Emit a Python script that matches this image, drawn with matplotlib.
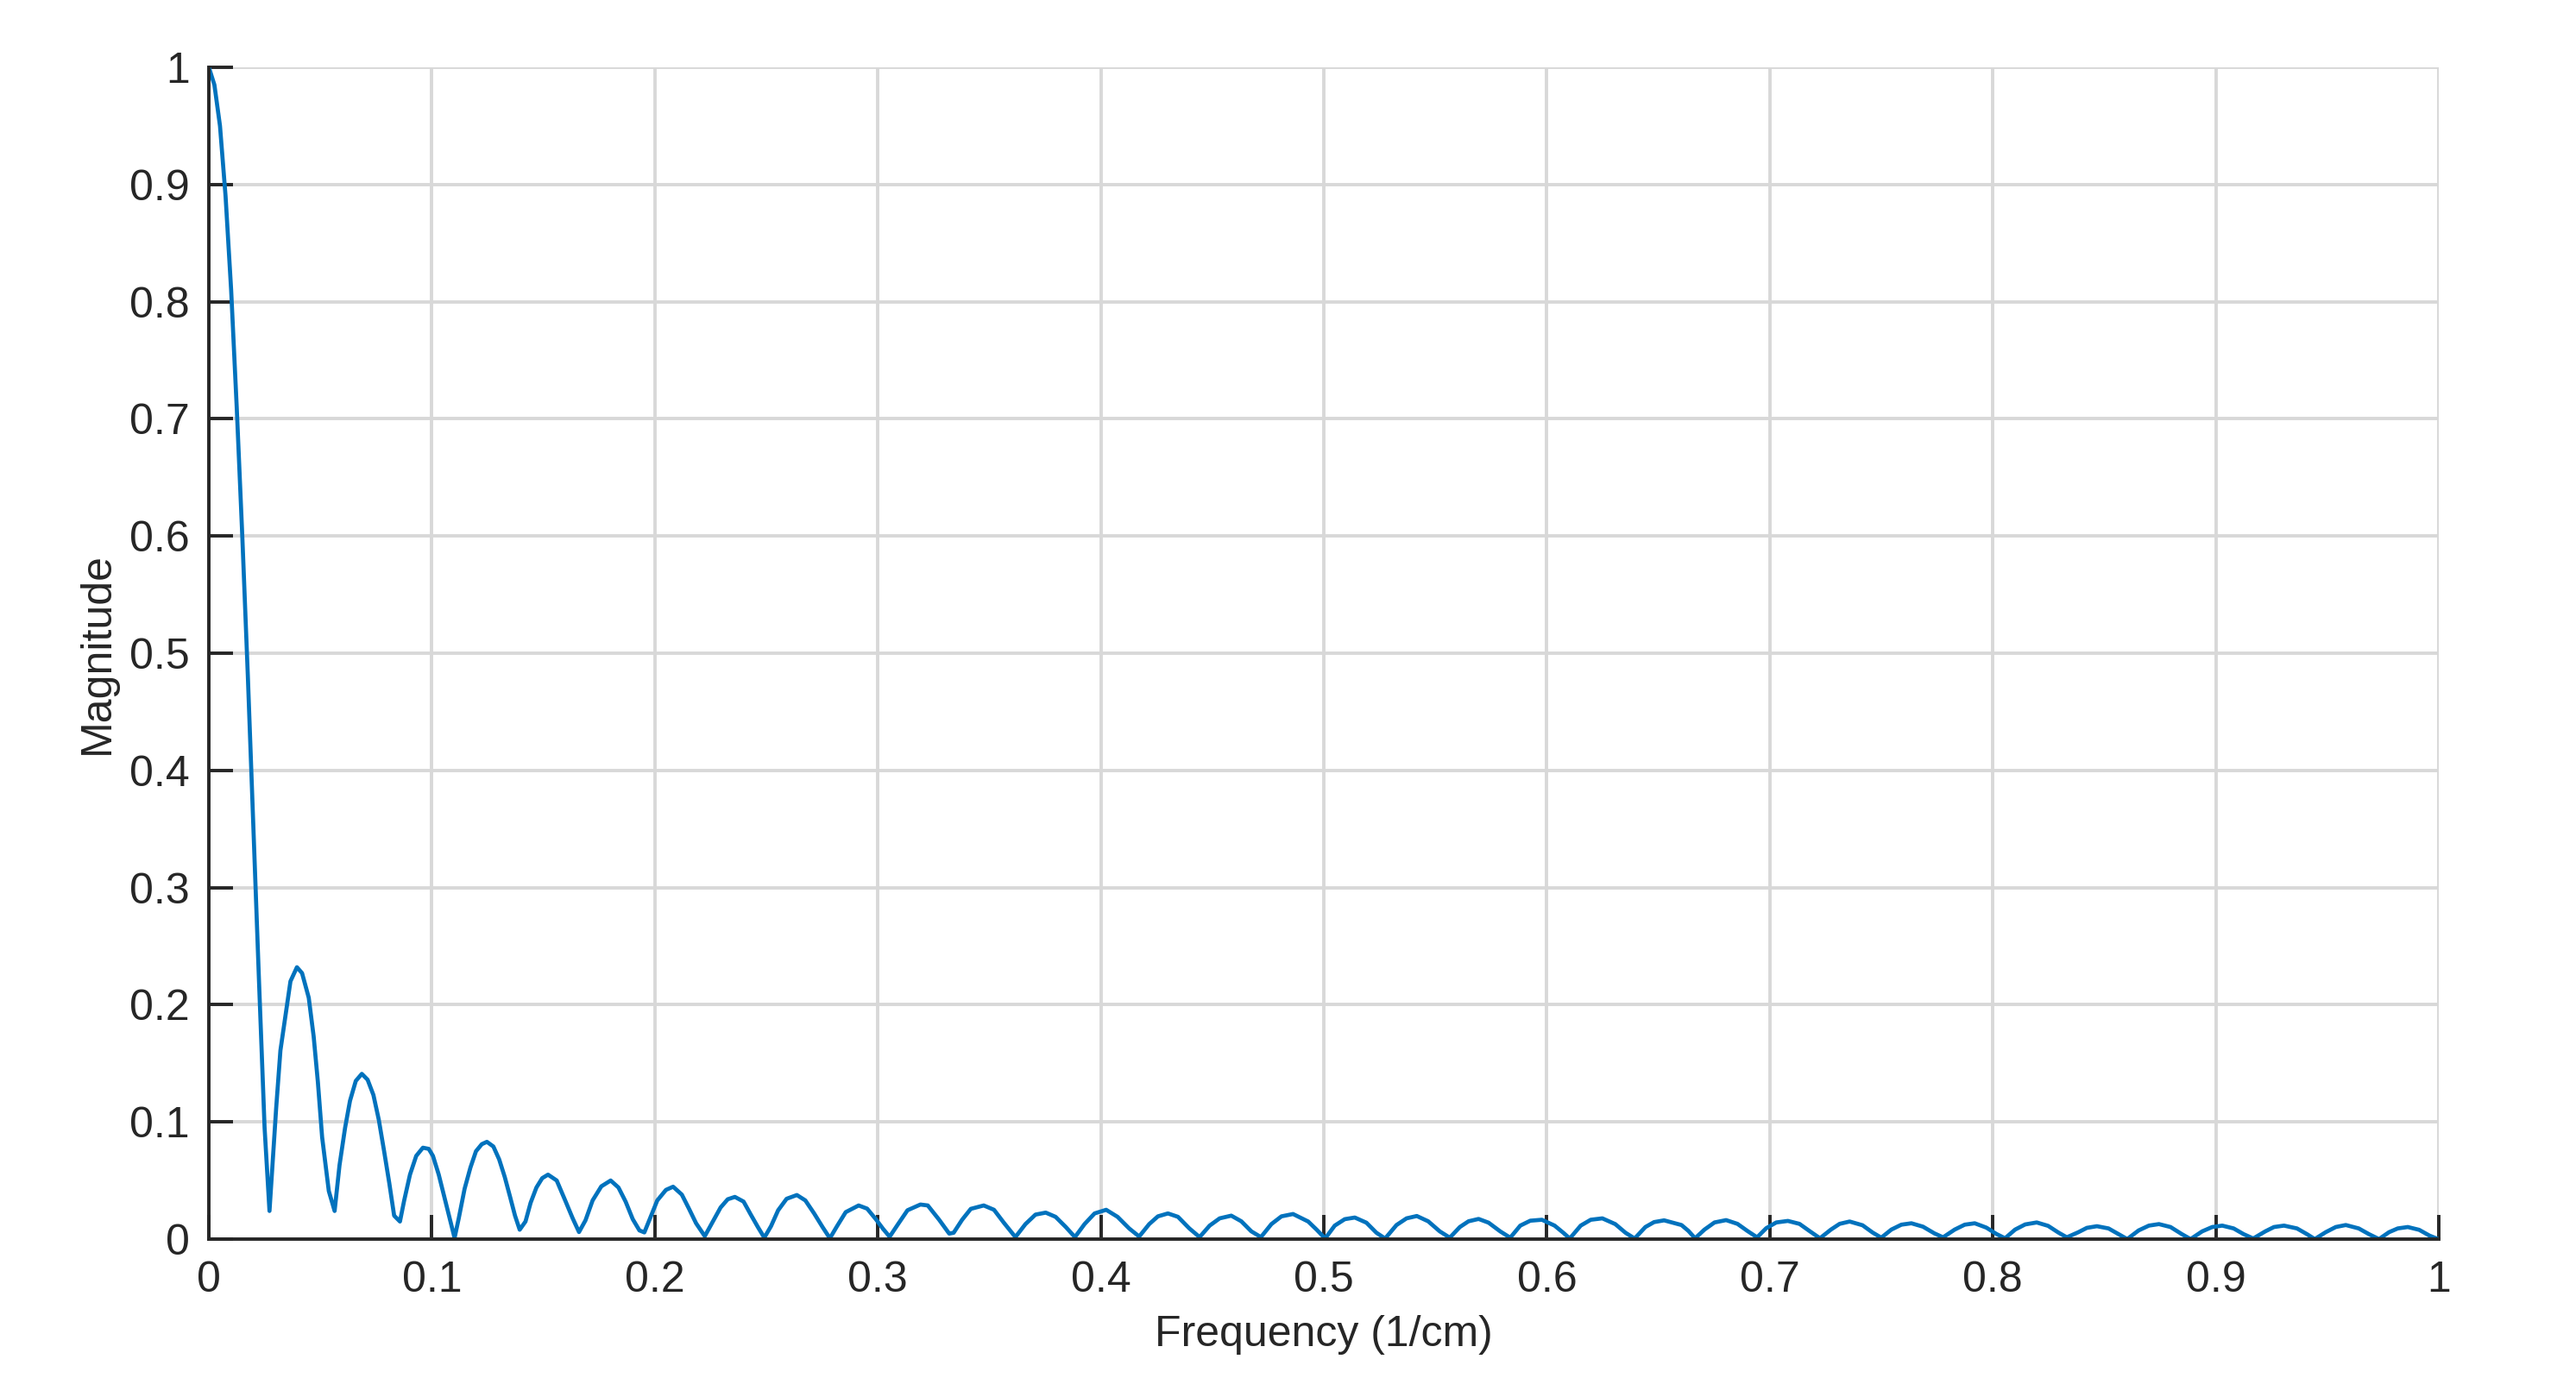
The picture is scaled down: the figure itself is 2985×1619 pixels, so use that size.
import matplotlib
matplotlib.use("Agg")
import matplotlib.pyplot as plt

# Values (frequency in 1/cm, magnitude)
frequency = [
    0.0000, 0.0025, 0.0050, 0.0075, 0.0100, 0.0125, 0.0150, 0.0175, 0.0200, 0.0225, 0.0250, 0.0272,
    0.0302, 0.0321, 0.0343, 0.0366, 0.0395, 0.0418, 0.0448, 0.0470, 0.0489, 0.0508, 0.0538, 0.0564,
    0.0586, 0.0611, 0.0633, 0.0659, 0.0686, 0.0712, 0.0738, 0.0762, 0.0786, 0.0809, 0.0831, 0.0857,
    0.0876, 0.0902, 0.0930, 0.0960, 0.0986, 0.1005, 0.1031, 0.1056, 0.1080, 0.1102,
    0.1121, 0.1147, 0.1173, 0.1198, 0.1224, 0.1247, 0.1276, 0.1302, 0.1327, 0.1351, 0.1373, 0.1394,
    0.1420, 0.1443, 0.1469, 0.1495, 0.1521, 0.1560, 0.1598, 0.1631, 0.1660,
    0.1689, 0.1721, 0.1760, 0.1802, 0.1837, 0.1869, 0.1901, 0.1931, 0.1953,
    0.1979, 0.2011, 0.2050, 0.2082, 0.2121, 0.2153, 0.2185, 0.2224,
    0.2256, 0.2295, 0.2327, 0.2359, 0.2398, 0.2430, 0.2463, 0.2491,
    0.2521, 0.2553, 0.2591, 0.2637, 0.2675, 0.2714, 0.2753, 0.2785,
    0.2817, 0.2856, 0.2914, 0.2952, 0.2991, 0.3024, 0.3053,
    0.3088, 0.3133, 0.3191, 0.3224, 0.3275, 0.3320, 0.3340,
    0.3378, 0.3417, 0.3475, 0.3521, 0.3565, 0.3617,
    0.3662, 0.3707, 0.3753, 0.3797, 0.3843, 0.3884,
    0.3927, 0.3972, 0.4024, 0.4075, 0.4127, 0.4172,
    0.4217, 0.4256, 0.4301, 0.4346, 0.4397, 0.4443,
    0.4488, 0.4533, 0.4585, 0.4630, 0.4675, 0.4718,
    0.4765, 0.4810, 0.4862, 0.4930, 0.4968, 0.5006,
    0.5049, 0.5094, 0.5139, 0.5191, 0.5236, 0.5275,
    0.5326, 0.5371, 0.5417, 0.5468, 0.5520, 0.5565,
    0.5610, 0.5649, 0.5694, 0.5739, 0.5791, 0.5836,
    0.5881, 0.5926, 0.5978, 0.6035, 0.6074, 0.6103,
    0.6152, 0.6197, 0.6249, 0.6307, 0.6353, 0.6394,
    0.6442, 0.6481, 0.6526, 0.6604, 0.6635, 0.6665,
    0.6707, 0.6752, 0.6804, 0.6855, 0.6900, 0.6943,
    0.6984, 0.7029, 0.7081, 0.7133, 0.7178, 0.7225,
    0.7274, 0.7313, 0.7358, 0.7416, 0.7461, 0.7500,
    0.7545, 0.7590, 0.7635, 0.7687, 0.7738, 0.7777,
    0.7829, 0.7874, 0.7919, 0.7971, 0.8016, 0.8055,
    0.8100, 0.8145, 0.8197, 0.8248, 0.8294, 0.8332,
    0.8384, 0.8422, 0.8467, 0.8519, 0.8564, 0.8603,
    0.8654, 0.8700, 0.8745, 0.8797, 0.8848, 0.8887,
    0.8939, 0.8984, 0.9029, 0.9080, 0.9125, 0.9168,
    0.9222, 0.9261, 0.9306, 0.9364, 0.9409, 0.9444,
    0.9493, 0.9538, 0.9583, 0.9641, 0.9687, 0.9732,
    0.9777, 0.9816, 0.9861, 0.9912, 0.9958, 0.9997,
]
magnitude = [
    1.000, 0.985, 0.950, 0.890, 0.810, 0.710, 0.600, 0.480, 0.350, 0.220, 0.095, 0.024,
    0.112, 0.161, 0.190, 0.220, 0.232, 0.227, 0.206, 0.173, 0.134, 0.087, 0.041, 0.024,
    0.063, 0.095, 0.118, 0.135, 0.141, 0.136, 0.123, 0.102, 0.075, 0.048, 0.020, 0.015,
    0.033, 0.055, 0.071, 0.078, 0.077, 0.071, 0.055, 0.036, 0.018, 0.001,
    0.018, 0.043, 0.061, 0.075, 0.081, 0.083, 0.079, 0.068, 0.053, 0.036, 0.020, 0.008,
    0.015, 0.031, 0.044, 0.052, 0.055, 0.050, 0.033, 0.018, 0.006,
    0.016, 0.033, 0.045, 0.050, 0.044, 0.032, 0.017, 0.0074, 0.0057,
    0.018, 0.033, 0.042, 0.0447, 0.038, 0.026, 0.0135, 0.0025,
    0.0135, 0.027, 0.034, 0.036, 0.032, 0.021, 0.010, 0.0012,
    0.011, 0.0246, 0.0344, 0.0376, 0.033, 0.022, 0.010, 0.0007,
    0.011, 0.023, 0.0287, 0.026, 0.017, 0.0086, 0.002,
    0.012, 0.0246, 0.0295, 0.0287, 0.0165, 0.0047, 0.0054,
    0.0165, 0.0258, 0.0287, 0.025, 0.014, 0.0017,
    0.0128, 0.0209, 0.0226, 0.019, 0.0103, 0.0017,
    0.0128, 0.0219, 0.025, 0.019, 0.0091, 0.0022,
    0.0128, 0.0194, 0.0219, 0.019, 0.0091, 0.0017,
    0.0115, 0.0177, 0.020, 0.0152, 0.0066, 0.0017,
    0.0128, 0.0194, 0.0214, 0.015, 0.008, 0.0005,
    0.0115, 0.017, 0.0184, 0.014, 0.0054, 0.0005,
    0.012, 0.0177, 0.0197, 0.0152, 0.0066, 0.0012,
    0.0103, 0.0152, 0.0172, 0.014, 0.0066, 0.0012,
    0.0115, 0.0157, 0.0165, 0.0115, 0.0054, 0.0005,
    0.0115, 0.0165, 0.0177, 0.0128, 0.0054, 0.0005,
    0.0103, 0.0145, 0.016, 0.012, 0.007, 0.0007,
    0.0081, 0.0142, 0.0162, 0.013, 0.0069, 0.0015,
    0.0093, 0.0142, 0.0155, 0.013, 0.0069, 0.0007,
    0.0081, 0.013, 0.015, 0.0118, 0.0056, 0.0012,
    0.0081, 0.0123, 0.0135, 0.0106, 0.0049, 0.0015,
    0.0081, 0.0123, 0.0135, 0.0098, 0.0044, 0.0007,
    0.0081, 0.0125, 0.0142, 0.0113, 0.0056, 0.0015,
    0.0059, 0.0096, 0.011, 0.0091, 0.0042, 0.0000,
    0.0074, 0.0115, 0.0128, 0.0103, 0.0042, 0.0000,
    0.0066, 0.0103, 0.0115, 0.0091, 0.0042, 0.0005,
    0.0066, 0.0103, 0.0115, 0.0091, 0.0042, 0.0000,
    0.0059, 0.0103, 0.012, 0.0091, 0.0042, 0.0000,
    0.0059, 0.0091, 0.0103, 0.0079, 0.003, 0.0000,
]

x_ticks = [0, 0.1, 0.2, 0.3, 0.4, 0.5, 0.6, 0.7, 0.8, 0.9, 1]
x_tick_labels = ["0", "0.1", "0.2", "0.3", "0.4", "0.5", "0.6", "0.7", "0.8", "0.9", "1"]
y_ticks = [0, 0.1, 0.2, 0.3, 0.4, 0.5, 0.6, 0.7, 0.8, 0.9, 1]
y_tick_labels = ["0", "0.1", "0.2", "0.3", "0.4", "0.5", "0.6", "0.7", "0.8", "0.9", "1"]
x_label = "Frequency (1/cm)"
y_label = "Magnitude"

plt.rcParams['font.family'] = ['Liberation Sans', 'DejaVu Sans']

DPI = 200
fig = plt.figure(figsize=(2985 / DPI, 1619 / DPI), dpi=DPI)
ax = fig.add_axes([242 / 2985, 1 - 1436 / 1619, (2826 - 242) / 2985, (1436 - 78) / 1619])

ax.plot(frequency, magnitude, color="#0072BD", linewidth=1.7, solid_joinstyle="round")

ax.set_xlim(0, 1)
ax.set_ylim(0, 1)
ax.set_xticks(x_ticks)
ax.set_xticklabels(x_tick_labels)
ax.set_yticks(y_ticks)
ax.set_yticklabels(y_tick_labels)

ax.grid(True, color="#d8d8d8", linewidth=1.4)
ax.set_axisbelow(True)

for side in ("top", "right"):
    ax.spines[side].set_visible(False)
for side in ("left", "bottom"):
    ax.spines[side].set_color("#262626")
    ax.spines[side].set_linewidth(1.4)

ax.tick_params(axis="both", direction="in", length=10, width=1.4, color="#262626",
               labelcolor="#262626", labelsize=18)
ax.tick_params(axis="x", pad=9)
ax.tick_params(axis="y", pad=8)

ax.set_xlabel(x_label, fontsize=18, color="#262626", labelpad=6)
ax.set_ylabel(y_label, fontsize=18, color="#262626", labelpad=5)

fig.savefig("out.png", dpi=DPI, facecolor="white")
